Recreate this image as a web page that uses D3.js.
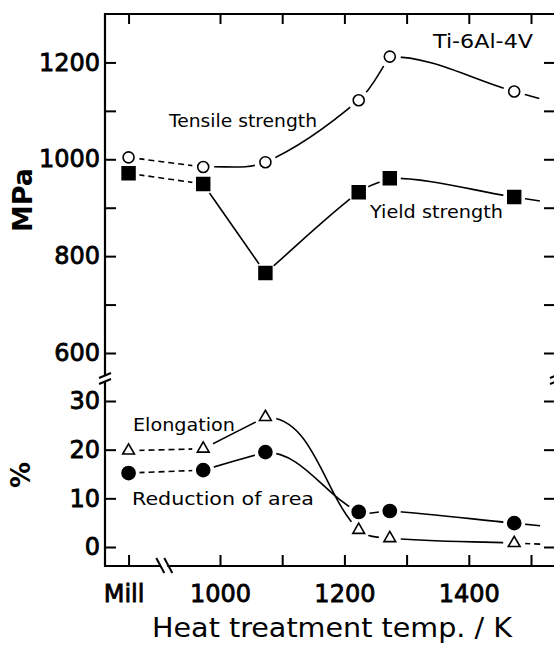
<!DOCTYPE html>
<html>
<head>
<meta charset="utf-8">
<script src="https://cdn.jsdelivr.net/npm/d3@7"></script>
<style>
  body { margin: 0; background: #fff; }
  svg { display: block; font-family: "DejaVu Sans", sans-serif; }
</style>
</head>
<body>
<div id="chart"></div>
<script>
// heat treatment temperatures (K); "Mill" = as-received
const categories = ["Mill", 973, 1073, 1223, 1273, 1473];
const tensile = [1004, 984, 994, 1122, 1212, 1140];      // MPa
const yieldStrength = [971, 949, 765, 932, 961, 922];   // MPa
const elongation = [19.8, 20.2, 26.7, 3.5, 1.8, 0.8];   // %
const reduction = [15.2, 15.8, 19.5, 7.2, 7.4, 4.9];    // %

const tempTicks = [1000, 1100, 1200, 1300, 1400, 1500];
const tempTickLabels = ["1000", "", "1200", "", "1400", ""];
const mpaTicks = [600, 700, 800, 900, 1000, 1100, 1200];
const mpaTickLabels = ["600", "", "800", "", "1000", "", "1200"];
const pctTicks = [0, 10, 20, 30];
const pctTickLabels = ["0", "10", "20", "30"];

const width = 554, height = 648;
const plotLeft = 105, plotRight = 556, plotTop = 14, plotBottom = 566;
const millAt = 853; // nominal spot of "Mill" left of the axis break

const x = d3.scaleLinear().domain([1000, 1500]).range([220, 531]);
const yMpa = d3.scaleLinear().domain([600, 1300]).range([353, plotTop]);
const yPct = d3.scaleLinear().domain([0, 30]).range([547, 401]);
const xPos = c => c === "Mill" ? x(millAt) : x(c);

const svg = d3.select("#chart")
    .append("svg")
    .attr("width", width)
    .attr("height", height);

// ---- axes (ticks point inward) ----
const allX = [millAt, ...tempTicks];
const xLabel = d => d === millAt ? "Mill" : tempTickLabels[tempTicks.indexOf(d)];

function styleAxis(g, size) {
    g.select(".domain").remove();
    g.selectAll(".tick line").attr("stroke", "#000").attr("stroke-width", 2);
    g.selectAll("text").attr("fill", "#000")
        .attr("stroke", "#000").attr("stroke-width", 0.8);
    g.attr("font-family", "DejaVu Sans, sans-serif").attr("font-size", size);
}

svg.append("g")
    .attr("transform", `translate(0,${plotBottom})`)
    .call(d3.axisBottom(x).tickValues(allX).tickSize(-11).tickPadding(19).tickFormat(xLabel))
    .call(g => styleAxis(g, 24))
    .call(g => g.selectAll(".tick text").filter(d => d === millAt).attr("dx", -5));

svg.append("g")
    .attr("transform", `translate(0,${plotTop})`)
    .call(d3.axisTop(x).tickValues(allX).tickSize(-10).tickFormat(""))
    .call(g => styleAxis(g, 10));

svg.append("g")
    .attr("transform", `translate(${plotLeft},0)`)
    .call(d3.axisLeft(yMpa).tickValues(mpaTicks).tickSize(-11).tickPadding(5)
        .tickFormat((d, i) => mpaTickLabels[i]))
    .call(g => styleAxis(g, 24));

svg.append("g")
    .attr("transform", `translate(${plotLeft},0)`)
    .call(d3.axisLeft(yPct).tickValues(pctTicks).tickSize(-11).tickPadding(5)
        .tickFormat((d, i) => pctTickLabels[i]))
    .call(g => styleAxis(g, 24));

svg.append("g")
    .attr("transform", `translate(${plotRight},0)`)
    .call(d3.axisRight(yMpa).tickValues(mpaTicks).tickSize(-12).tickFormat(""))
    .call(g => styleAxis(g, 10));

svg.append("g")
    .attr("transform", `translate(${plotRight},0)`)
    .call(d3.axisRight(yPct).tickValues(pctTicks).tickSize(-12).tickFormat(""))
    .call(g => styleAxis(g, 10));

// frame
svg.append("path")
    .attr("d", `M${plotLeft},${plotTop}H${plotRight}V${plotBottom}H${plotLeft}Z`)
    .attr("stroke", "#000").attr("stroke-width", 2.2).attr("fill", "none");

// break marks: white gap in the frame, then two slashes
const breakY = (yMpa(600) + yPct(30)) / 2 + 2;
const breakX = (x(millAt) + x(1000)) / 2 - 13;
const gaps = svg.append("g").attr("fill", "#fff");
const brk = svg.append("g").attr("stroke", "#000").attr("stroke-width", 2);
[plotLeft, plotRight].forEach(bx => {
    gaps.append("rect").attr("x", bx - 2).attr("y", breakY - 3).attr("width", 4).attr("height", 5);
    brk.append("line").attr("x1", bx - 6).attr("y1", breakY - 1).attr("x2", bx + 6).attr("y2", breakY - 6);
    brk.append("line").attr("x1", bx - 6).attr("y1", breakY + 5).attr("x2", bx + 6).attr("y2", breakY);
});
gaps.append("rect").attr("x", breakX - 1).attr("y", plotBottom - 3).attr("width", 7).attr("height", 6);
brk.append("line").attr("x1", breakX - 5).attr("y1", plotBottom - 8).attr("x2", breakX + 3).attr("y2", plotBottom + 7);
brk.append("line").attr("x1", breakX + 3).attr("y1", plotBottom - 8).attr("x2", breakX + 11).attr("y2", plotBottom + 7);

// ---- series ----
const series = [
    { key: "ts", values: tensile, y: yMpa, symbol: d3.symbolCircle, size: 95, filled: false, tailDash: null },
    { key: "ys", values: yieldStrength, y: yMpa, symbol: d3.symbolSquare, size: 165, filled: true, tailDash: null },
    { key: "el", values: elongation, y: yPct, symbol: d3.symbolTriangle, size: 60, filled: false, tailDash: "6,4" },
    { key: "ra", values: reduction, y: yPct, symbol: d3.symbolCircle, size: 135, filled: true, tailDash: null }
];

const unit = (a, b) => {
    const l = Math.hypot(b[0] - a[0], b[1] - a[1]);
    return [(b[0] - a[0]) / l, (b[1] - a[1]) / l];
};

// hand-drawn look: smooth spline, tangent = neighbour chord, handles = 1/3 of segment
function smoothPath(p, startDir) {
    const dirs = p.map((pt, i) =>
        i === 0 ? (startDir || unit(p[0], p[1]))
        : i === p.length - 1 ? unit(p[i - 1], p[i])
        : unit(p[i - 1], p[i + 1]));
    const path = d3.path();
    path.moveTo(p[0][0], p[0][1]);
    for (let i = 0; i < p.length - 1; i++) {
        const L = Math.hypot(p[i + 1][0] - p[i][0], p[i + 1][1] - p[i][1]) / 3;
        path.bezierCurveTo(
            p[i][0] + dirs[i][0] * L, p[i][1] + dirs[i][1] * L,
            p[i + 1][0] - dirs[i + 1][0] * L, p[i + 1][1] - dirs[i + 1][1] * L,
            p[i + 1][0], p[i + 1][1]);
    }
    return path.toString();
}

const defs = svg.append("defs");

series.forEach(s => {
    const pts = s.values.map((v, i) => [xPos(categories[i]), s.y(v)]);

    // mask that opens a small gap in the line around each marker
    const mask = defs.append("mask").attr("id", "m-" + s.key).attr("maskUnits", "userSpaceOnUse")
        .attr("x", 0).attr("y", 0).attr("width", width).attr("height", height);
    mask.append("rect").attr("width", width).attr("height", height).attr("fill", "#fff");
    mask.selectAll("circle").data(pts).join("circle")
        .attr("cx", d => d[0]).attr("cy", d => d[1]).attr("r", 11).attr("fill", "#000");

    const g = svg.append("g").attr("mask", `url(#m-${s.key})`)
        .attr("fill", "none").attr("stroke", "#000").attr("stroke-width", 1.6);

    // as-received to first heat treatment: dashed
    g.append("path").attr("d", d3.line()(pts.slice(0, 2))).attr("stroke-dasharray", "6,4");

    // short tail running off the right edge
    const n = pts.length;
    const a = pts[n - 2], b = pts[n - 1];
    const dir = unit(a, b);
    const tail = [b[0] + dir[0] * 26, b[1] + dir[1] * 26];
    g.append("path").attr("d", d3.line()([b, tail])).attr("stroke-dasharray", s.tailDash);

    // heat-treated points: smooth curve, split at sharp peaks / valleys
    const solid = pts.slice(1);
    let piece = [solid[0]], startDir = null;
    for (let i = 1; i < solid.length; i++) {
        piece.push(solid[i]);
        const prev = solid[i - 1], next = solid[i + 1];
        const up = solid[i][1] - prev[1], down = next ? next[1] - solid[i][1] : 0;
        if (next && up * down < 0 && Math.abs(up) > 8 && Math.abs(down) > 8) {
            g.append("path").attr("d", smoothPath(piece, startDir));
            piece = [solid[i]];
            startDir = up < 0 ? [1, 0] : null; // after a peak the curve leaves level
        }
    }
    g.append("path").attr("d", smoothPath(piece, startDir));

    svg.append("g").selectAll("path").data(pts).join("path")
        .attr("transform", d => `translate(${d[0]},${d[1]})`)
        .attr("d", d3.symbol().type(s.symbol).size(s.size))
        .attr("fill", s.filled ? "#000" : "#fff")
        .attr("stroke", "#000")
        .attr("stroke-width", 1.6);
});

// ---- labels ----
const labels = [
    { text: "Ti-6Al-4V", x: 433, y: 48, len: 100, size: 19 },
    { text: "Tensile strength", x: 169, y: 127, len: 148, size: 18 },
    { text: "Yield strength", x: 370, y: 218, len: 133, size: 18 },
    { text: "Elongation", x: 133, y: 431, len: 102, size: 18 },
    { text: "Reduction of area", x: 132, y: 505, len: 182, size: 18 }
];
svg.append("g").selectAll("text").data(labels).join("text")
    .attr("x", d => d.x).attr("y", d => d.y)
    .attr("textLength", d => d.len).attr("lengthAdjust", "spacingAndGlyphs")
    .style("font-size", d => d.size + "px")
    .text(d => d.text);

svg.append("text")
    .attr("transform", "translate(22,200) rotate(-90)")
    .attr("text-anchor", "middle").attr("dominant-baseline", "central")
    .style("font-size", "27px").style("font-weight", "bold")
    .text("MPa");

svg.append("text")
    .attr("transform", "translate(21,475) rotate(-90)")
    .attr("text-anchor", "middle").attr("dominant-baseline", "central")
    .style("font-size", "26px").style("font-weight", "bold")
    .text("%");

svg.append("text")
    .attr("x", 152).attr("y", 637)
    .attr("textLength", 360).attr("lengthAdjust", "spacingAndGlyphs")
    .style("font-size", "27px")
    .text("Heat treatment temp. / K");
</script>
</body>
</html>
